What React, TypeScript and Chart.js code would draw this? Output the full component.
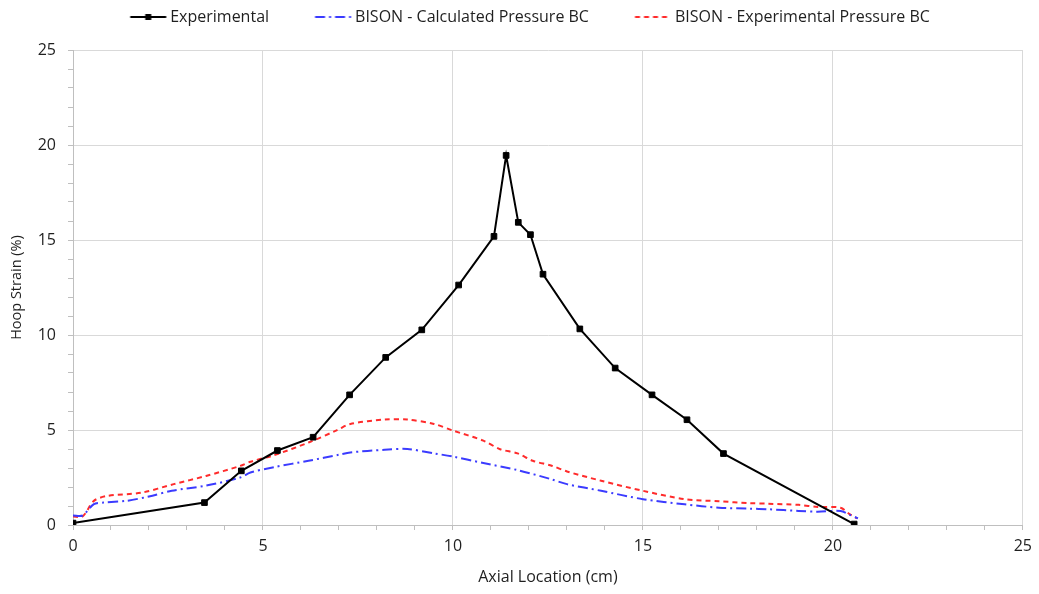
import React, { useEffect, useRef } from "react";
import { Chart, registerables } from "chart.js";

Chart.register(...registerables);

// ---- data ----
const expX = [0, 3.46, 4.43, 5.38, 6.32, 7.28, 8.23, 9.18, 10.15, 11.08, 11.4, 11.72, 12.04, 12.37, 13.34, 14.27, 15.24, 16.16, 17.12, 20.56];
const expY = [0.1, 1.18, 2.85, 3.92, 4.62, 6.85, 8.82, 10.27, 12.63, 15.19, 19.45, 15.93, 15.28, 13.2, 10.32, 8.26, 6.85, 5.54, 3.76, 0.05];

const calcX = [0, 0.25, 0.55, 0.8, 1.4, 2.0, 2.6, 3.5, 4.4, 4.67, 5.3, 6.2, 7.0, 7.3, 8.2, 8.8, 9.5, 10.0, 10.8, 11.7, 12.6, 13.0, 13.9, 15.0, 16.1, 17.0, 17.8, 18.3, 19.1, 19.6, 20.2, 20.45, 20.66];
const calcY = [0.5, 0.5, 1.1, 1.18, 1.27, 1.5, 1.8, 2.07, 2.5, 2.76, 3.05, 3.38, 3.7, 3.82, 3.96, 4.0, 3.77, 3.6, 3.26, 2.89, 2.4, 2.15, 1.8, 1.36, 1.09, 0.91, 0.86, 0.83, 0.74, 0.7, 0.74, 0.53, 0.35];

const bcX = [0, 0.25, 0.55, 0.9, 1.8, 2.65, 3.5, 4.4, 4.67, 5.3, 6.2, 6.95, 7.3, 8.2, 8.8, 9.5, 10.0, 10.8, 11.24, 11.7, 12.1, 12.6, 13.0, 13.9, 15.0, 16.1, 17.0, 17.8, 18.3, 19.1, 19.6, 20.2, 20.45, 20.63];
const bcY = [0.45, 0.45, 1.27, 1.53, 1.7, 2.15, 2.58, 3.11, 3.33, 3.68, 4.34, 4.99, 5.32, 5.55, 5.55, 5.32, 4.97, 4.44, 3.99, 3.77, 3.38, 3.12, 2.82, 2.33, 1.8, 1.36, 1.25, 1.15, 1.12, 1.06, 0.95, 0.91, 0.56, 0.35];

const seriesNames = ["Experimental", "BISON - Calculated Pressure BC", "BISON - Experimental Pressure BC"];
const xTitle = "Axial Location (cm)";
const yTitle = "Hoop Strain (%)";
const axisMin = 0;
const axisMax = 25;
const majorStep = 5;

const FONT = "'Open Sans', 'Noto Sans', sans-serif";
const FONT_SIZE = 16;
const TEXT = "#1f1f1f";
const BLACK = "#000000";
const BLUE = "#3b3bff";
const RED = "#ff2b2b";
const DASH_BLUE = [10, 4, 2, 4];
const DASH_RED = [5, 4];

function toPoints(xs: number[], ys: number[]) {
  return xs.map((x, i) => ({ x, y: ys[i] }));
}

const PSW = 69; // legend point-style width
const IMG_W = 90;

function legendImage(color: string, dash: number[], marker: boolean): HTMLCanvasElement {
  const c = document.createElement("canvas");
  c.width = IMG_W;
  c.height = 14;
  const ctx = c.getContext("2d")!;
  // image is centered at item.x + PSW/2 ; its left edge is at item.x + PSW/2 - IMG_W/2
  const off = IMG_W / 2 - PSW / 2;
  const x0 = off + 37;
  const x1 = off + 73;
  ctx.strokeStyle = color;
  ctx.lineWidth = 2;
  ctx.setLineDash(dash);
  ctx.beginPath();
  ctx.moveTo(x0, 7);
  ctx.lineTo(x1, 7);
  ctx.stroke();
  if (marker) {
    ctx.fillStyle = color;
    const cx = (x0 + x1) / 2;
    ctx.fillRect(cx - 3, 4, 6, 6);
  }
  return c;
}

export default function App() {
  const ref = useRef<HTMLCanvasElement | null>(null);

  useEffect(() => {
    if (!ref.current) return;
    const imgs = [
      legendImage(BLACK, [], true),
      legendImage(BLUE, DASH_BLUE, false),
      legendImage(RED, DASH_RED, false),
    ];

    const legendFix = {
      id: "legendFix",
      afterInit(chart: any) {
        const lg = chart.legend;
        if (lg && !lg.__patched) {
          const orig = lg.fit.bind(lg);
          lg.fit = function () {
            orig();
            this.height = 50;
          };
          lg.__patched = true;
        }
      },
    };

    const tickCb = (v: any) => (Number(v) % majorStep === 0 ? String(v) : "");
    const gridColor = (c: any) => (c.tick && Math.abs(c.tick.value % majorStep) < 1e-9 ? "#d9d9d9" : "rgba(0,0,0,0)");
    const font = { family: FONT, size: FONT_SIZE };

    const chart = new Chart(ref.current, {
      type: "scatter",
      data: {
        datasets: [
          {
            label: seriesNames[0],
            data: toPoints(expX, expY),
            showLine: true,
            borderColor: BLACK,
            backgroundColor: BLACK,
            borderWidth: 2,
            pointStyle: "rect",
            pointRadius: 4,
            pointBorderWidth: 1,
            pointBorderColor: BLACK,
            pointBackgroundColor: BLACK,
          },
          {
            label: seriesNames[1],
            data: toPoints(calcX, calcY),
            showLine: true,
            borderColor: BLUE,
            backgroundColor: BLUE,
            borderWidth: 2,
            borderDash: DASH_BLUE,
            pointRadius: 0,
            tension: 0.3,
          },
          {
            label: seriesNames[2],
            data: toPoints(bcX, bcY),
            showLine: true,
            borderColor: RED,
            backgroundColor: RED,
            borderWidth: 2,
            borderDash: DASH_RED,
            pointRadius: 0,
            tension: 0.3,
          },
        ],
      },
      options: {
        animation: false,
        responsive: false,
        layout: { padding: { left: 0, right: 16, top: 0, bottom: 0 } },
        plugins: {
          tooltip: { enabled: false },
          legend: {
            display: true,
            position: "top",
            align: "center",
            labels: {
              usePointStyle: true,
              pointStyleWidth: PSW,
              padding: 9,
              color: TEXT,
              font,
              generateLabels: (chart: any) => {
                const base = Chart.defaults.plugins.legend.labels.generateLabels(chart);
                return base.map((it: any, i: number) => ({ ...it, pointStyle: imgs[i], lineDash: [] }));
              },
            },
          },
        },
        scales: {
          x: {
            type: "linear",
            min: axisMin,
            max: axisMax,
            afterFit: (s: any) => {
              s.height = 69;
            },
            ticks: {
              stepSize: 1,
              autoSkip: false,
              maxRotation: 0,
              padding: 7,
              color: TEXT,
              font,
              callback: tickCb,
            },
            grid: { color: gridColor, tickColor: "#bfbfbf", tickLength: 5, drawTicks: true },
            border: { color: "#bfbfbf", width: 1 },
            title: {
              display: true,
              text: xTitle,
              color: TEXT,
              font,
              padding: { top: 0, bottom: 7 },
            },
          },
          y: {
            type: "linear",
            min: axisMin,
            max: axisMax,
            afterFit: (s: any) => {
              s.width = 73;
            },
            ticks: {
              stepSize: 1,
              autoSkip: false,
              padding: 12,
              color: TEXT,
              font,
              callback: tickCb,
            },
            grid: { color: gridColor, tickColor: "#bfbfbf", tickLength: 5, drawTicks: true },
            border: { color: "#bfbfbf", width: 1 },
            title: {
              display: true,
              text: yTitle,
              color: TEXT,
              font: { family: FONT, size: 14.5 },
              padding: { top: 8, bottom: 0 },
            },
          },
        },
      },
      plugins: [legendFix],
    } as any);

    return () => chart.destroy();
  }, []);

  return (
    <div style={{ position: "fixed", left: 0, top: 0, width: 1039, height: 594, background: "#fff" }}>
      <canvas ref={ref} width={1039} height={594} style={{ display: "block" }} />
    </div>
  );
}
